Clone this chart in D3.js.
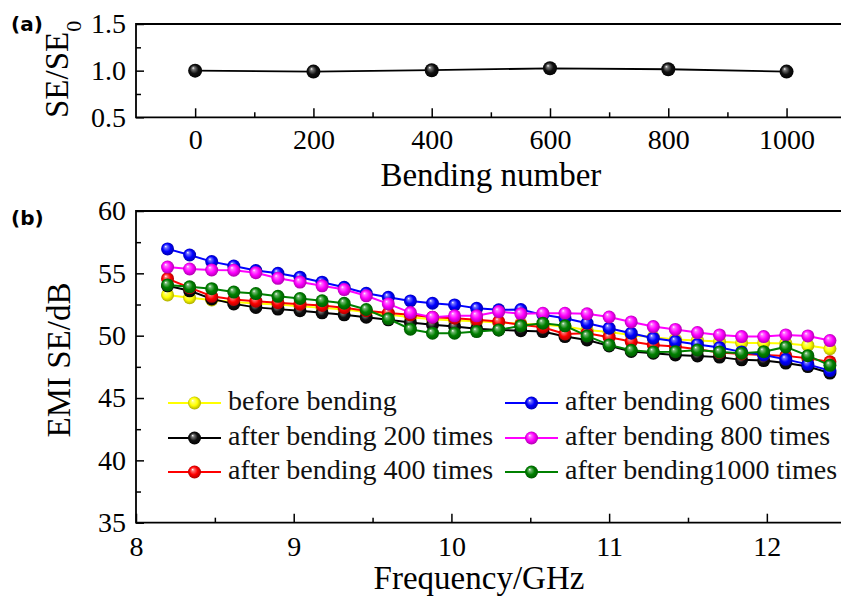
<!DOCTYPE html>
<html>
<head>
<meta charset="utf-8">
<script src="https://cdn.jsdelivr.net/npm/d3@7"></script>
<style>
  body { margin: 0; background: #fff; }
  svg { display: block; }
  .tick text { font-family: "Liberation Serif", "Times New Roman", serif; font-size: 28px; fill: #000; }
  .tick line { stroke: #000; stroke-width: 1.5; }
  .axis-label { font-family: "Liberation Serif", "Times New Roman", serif; font-size: 33px; fill: #000; }
  .panel-label { font-family: "DejaVu Sans", "Liberation Sans", Arial, sans-serif; font-size: 20px; font-weight: bold; }
  .legend text { font-family: "Liberation Serif", "Times New Roman", serif; font-size: 28px; fill: #111; }
</style>
</head>
<body>
<div id="chart"></div>
<script>
// 1: DATA
const bendingNumbers = [0, 200, 400, 600, 800, 1000];
const seRatio = [1.0, 0.99, 1.005, 1.025, 1.015, 0.99];

const frequencies = [8.2, 8.34, 8.48, 8.62, 8.76, 8.9, 9.04, 9.18, 9.32, 9.46, 9.6,
  9.74, 9.88, 10.02, 10.16, 10.3, 10.44, 10.58, 10.72, 10.86, 11.0,
  11.14, 11.28, 11.42, 11.56, 11.7, 11.84, 11.98, 12.12, 12.26, 12.4];

const seBefore = [53.27, 53.05, 52.87, 52.7, 52.58, 52.5, 52.36, 52.23, 52.1, 51.9, 51.7,
  51.48, 51.32, 51.21, 51.15, 51.05, 50.95, 50.87, 50.73, 50.46, 50.3,
  50.06, 49.88, 49.7, 49.62, 49.53, 49.42, 49.42, 49.38, 49.22, 48.95];
const se200 = [54.0, 53.6, 52.95, 52.55, 52.27, 52.13, 52.0, 51.83, 51.67, 51.48, 51.27,
  51.05, 50.87, 50.73, 50.55, 50.46, 50.4, 50.33, 49.93, 49.66, 49.18,
  48.73, 48.6, 48.46, 48.38, 48.28, 48.06, 48.0, 47.8, 47.52, 47.0];
const se400 = [54.57, 53.85, 53.16, 52.9, 52.77, 52.65, 52.53, 52.43, 52.24, 52.0, 51.82,
  51.67, 51.48, 51.4, 51.27, 51.13, 50.87, 50.68, 50.14, 50.2, 49.88,
  49.53, 49.26, 49.13, 48.92, 48.65, 48.54, 48.46, 48.38, 48.19, 47.9];
const se600 = [56.96, 56.47, 55.94, 55.59, 55.22, 55.0, 54.69, 54.29, 53.88, 53.4, 53.08,
  52.79, 52.6, 52.47, 52.2, 52.07, 52.1, 51.67, 51.4, 51.0, 50.6,
  50.2, 49.8, 49.55, 49.3, 49.05, 48.7, 48.45, 48.1, 47.7, 47.2];
const se800 = [55.5, 55.35, 55.27, 55.25, 55.05, 54.6, 54.3, 54.0, 53.7, 53.2, 52.55,
  51.85, 51.48, 51.59, 51.59, 51.93, 51.75, 51.8, 51.8, 51.75, 51.5,
  51.1, 50.73, 50.5, 50.25, 50.06, 49.93, 49.93, 50.06, 49.98, 49.61];
const se1000 = [54.07, 53.92, 53.77, 53.5, 53.38, 53.16, 52.98, 52.8, 52.6, 52.1, 51.36,
  50.52, 50.2, 50.2, 50.33, 50.46, 50.79, 51.0, 50.79, 49.98, 49.26,
  48.83, 48.7, 48.72, 48.85, 48.7, 48.6, 48.72, 49.1, 48.4, 47.62];

const seriesNames = ["before bending", "after bending 200 times", "after bending 400 times",
  "after bending 600 times", "after bending 800 times", "after bending1000 times"];
const seriesColors = ["#ffff00", "#000000", "#ff0000", "#0000ff", "#ff00ff", "#008000"];
const seriesValues = [seBefore, se200, se400, se600, se800, se1000];

const xTicksA = [0, 200, 400, 600, 800, 1000];
const yTicksA = [0.5, 1.0, 1.5];
const xTicksB = [8, 9, 10, 11, 12];
const yTicksB = [35, 40, 45, 50, 55, 60];

// 2: SVG + LAYOUT
const W = 841, H = 598;
const plotLeft = 136, plotRight = 845.7;
const aTop = 24, aBottom = 117.3;
const bTop = 211, bBottom = 522.7;

const svg = d3.select("#chart")
  .append("svg")
  .attr("width", W)
  .attr("height", H);

// sphere gradients for the markers
const defs = svg.append("defs");
seriesColors.forEach((c, i) => {
  const g = defs.append("radialGradient")
    .attr("id", "ball" + i)
    .attr("cx", "50%").attr("cy", "50%").attr("r", "55%")
    .attr("fx", "35%").attr("fy", "30%");
  const base = d3.color(c);
  const isBlack = c === "#000000";
  g.append("stop").attr("offset", "0%").attr("stop-color", "#ffffff");
  g.append("stop").attr("offset", "18%").attr("stop-color", isBlack ? "#777" : d3.interpolateRgb(c, "#fff")(0.45));
  g.append("stop").attr("offset", "55%").attr("stop-color", isBlack ? "#111" : c);
  g.append("stop").attr("offset", "100%").attr("stop-color", isBlack ? "#000" : base.darker(1.3).formatHex());
});
const gBlack = defs.append("radialGradient")
  .attr("id", "ballA")
  .attr("cx", "50%").attr("cy", "50%").attr("r", "55%")
  .attr("fx", "35%").attr("fy", "30%");
gBlack.append("stop").attr("offset", "0%").attr("stop-color", "#fff");
gBlack.append("stop").attr("offset", "18%").attr("stop-color", "#777");
gBlack.append("stop").attr("offset", "55%").attr("stop-color", "#111");
gBlack.append("stop").attr("offset", "100%").attr("stop-color", "#000");

// 3: PANEL (a)
const xA = d3.scaleLinear().domain([-100, 1100]).range([plotLeft, plotRight]);
const yA = d3.scaleLinear().domain([0.5, 1.5]).range([aBottom, aTop]);

svg.append("g")
  .attr("transform", `translate(0,${aBottom})`)
  .call(d3.axisBottom(xA).tickValues(xTicksA).tickSize(-9).tickPadding(12).tickFormat(d3.format("d")))
  .call(g => g.select(".domain").remove());
svg.append("g")
  .attr("transform", `translate(0,${aBottom})`)
  .call(d3.axisBottom(xA).tickValues([100, 300, 500, 700, 900]).tickSize(-5).tickFormat(""))
  .call(g => g.select(".domain").remove());
svg.append("g")
  .attr("transform", `translate(${plotLeft},0)`)
  .call(d3.axisLeft(yA).tickValues(yTicksA).tickSize(-8).tickPadding(10).tickFormat(d3.format(".1f")))
  .call(g => g.select(".domain").remove());
svg.append("g")
  .attr("transform", `translate(${plotLeft},0)`)
  .call(d3.axisLeft(yA).tickValues([0.75, 1.25]).tickSize(-5).tickFormat(""))
  .call(g => g.select(".domain").remove());

// frame (a)
svg.append("path")
  .attr("d", `M${plotRight},${aTop}H${plotLeft}V${aBottom}H${plotRight}`)
  .attr("fill", "none").attr("stroke", "#000").attr("stroke-width", 1.8);

const lineA = d3.line()
  .x((d, i) => xA(bendingNumbers[i]))
  .y(d => yA(d));
svg.append("path")
  .datum(seRatio)
  .attr("fill", "none")
  .attr("stroke", "#000")
  .attr("stroke-width", 1.8)
  .attr("d", lineA);
svg.selectAll(".ptA")
  .data(seRatio)
  .enter()
  .append("circle")
  .attr("class", "ptA")
  .attr("cx", (d, i) => xA(bendingNumbers[i]))
  .attr("cy", d => yA(d))
  .attr("r", 7)
  .attr("fill", "url(#ballA)");

svg.append("text")
  .attr("class", "axis-label")
  .attr("x", (plotLeft + plotRight) / 2)
  .attr("y", 186)
  .attr("text-anchor", "middle")
  .text("Bending number");

const seLabel = svg.append("text")
  .attr("class", "axis-label")
  .attr("transform", "translate(68,118) rotate(-90)")
  .attr("text-anchor", "start");
seLabel.append("tspan").text("SE/SE");
seLabel.append("tspan").attr("baseline-shift", "sub").attr("font-size", "22px").text("0");

svg.append("text").attr("class", "panel-label").attr("x", 11).attr("y", 31).text("(a)");

// 4: PANEL (b)
const xB = d3.scaleLinear().domain([8, 12.5]).range([plotLeft, plotRight]);
const yB = d3.scaleLinear().domain([35, 60]).range([bBottom, bTop]);

svg.append("g")
  .attr("transform", `translate(0,${bBottom})`)
  .call(d3.axisBottom(xB).tickValues(xTicksB).tickSize(-9).tickPadding(13).tickFormat(d3.format("d")))
  .call(g => g.select(".domain").remove());
svg.append("g")
  .attr("transform", `translate(0,${bBottom})`)
  .call(d3.axisBottom(xB).tickValues([8.5, 9.5, 10.5, 11.5, 12.5]).tickSize(-5).tickFormat(""))
  .call(g => g.select(".domain").remove());
svg.append("g")
  .attr("transform", `translate(${plotLeft},0)`)
  .call(d3.axisLeft(yB).tickValues(yTicksB).tickSize(-8).tickPadding(10).tickFormat(d3.format("d")))
  .call(g => g.select(".domain").remove());
svg.append("g")
  .attr("transform", `translate(${plotLeft},0)`)
  .call(d3.axisLeft(yB).tickValues([37.5, 42.5, 47.5, 52.5, 57.5]).tickSize(-5).tickFormat(""))
  .call(g => g.select(".domain").remove());

svg.append("path")
  .attr("d", `M${plotRight},${bTop}H${plotLeft}V${bBottom}H${plotRight}`)
  .attr("fill", "none").attr("stroke", "#000").attr("stroke-width", 1.8);

const lineB = d3.line()
  .x((d, i) => xB(frequencies[i]))
  .y(d => yB(d));

seriesValues.forEach((vals, s) => {
  const g = svg.append("g").attr("class", "series");
  g.append("path")
    .datum(vals)
    .attr("fill", "none")
    .attr("stroke", seriesColors[s])
    .attr("stroke-width", 2)
    .attr("d", lineB);
  g.selectAll("circle")
    .data(vals)
    .enter()
    .append("circle")
    .attr("cx", (d, i) => xB(frequencies[i]))
    .attr("cy", d => yB(d))
    .attr("r", 6.5)
    .attr("fill", `url(#ball${s})`);
});

svg.append("text")
  .attr("class", "axis-label")
  .attr("x", 479)
  .attr("y", 589)
  .attr("text-anchor", "middle")
  .text("Frequency/GHz");

svg.append("text")
  .attr("class", "axis-label")
  .attr("transform", "translate(70,360) rotate(-90)")
  .attr("text-anchor", "middle")
  .text("EMI SE/dB");

svg.append("text").attr("class", "panel-label").attr("x", 11).attr("y", 225).text("(b)");

// 5: LEGEND
const legendPos = [[168, 403], [168, 438], [168, 472], [505, 403], [505, 438], [505, 472]];
const legend = svg.selectAll(".legend")
  .data(seriesNames)
  .enter()
  .append("g")
  .attr("class", "legend")
  .attr("transform", (d, i) => `translate(${legendPos[i][0]},${legendPos[i][1]})`);

legend.append("line")
  .attr("x1", 0).attr("x2", 53)
  .attr("stroke", (d, i) => seriesColors[i])
  .attr("stroke-width", 2);
legend.append("circle")
  .attr("cx", 26.5)
  .attr("r", 6.5)
  .attr("fill", (d, i) => `url(#ball${i})`);
legend.append("text")
  .attr("x", 60)
  .attr("y", 7)
  .text(d => d);
</script>
</body>
</html>
